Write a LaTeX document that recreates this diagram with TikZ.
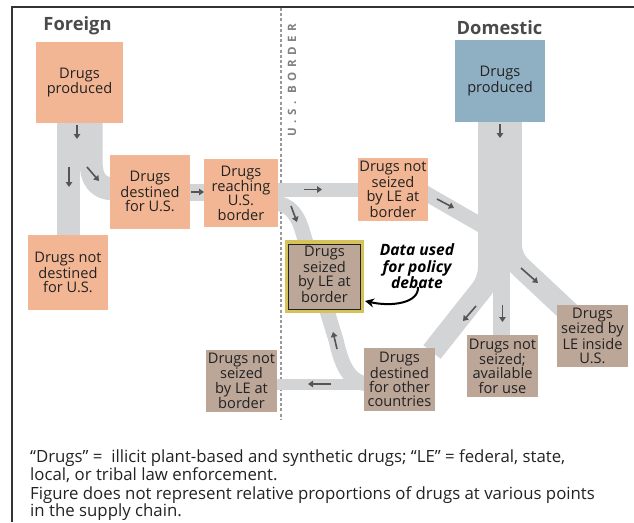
\documentclass[tikz,border=0pt]{standalone}
\usepackage{fontspec}
\setmainfont{Open Sans}
\newfontfamily\bordfam[LetterSpace=40]{Open Sans}
\usetikzlibrary{arrows.meta}
\definecolor{salmon}{HTML}{F3B694}
\definecolor{bluec}{HTML}{8FB0C2}
\definecolor{brownc}{HTML}{BBA698}
\definecolor{yellowc}{HTML}{D6C25A}
\definecolor{bandgray}{HTML}{D3D4D6}
\definecolor{arrgray}{HTML}{555555}
\definecolor{txt}{HTML}{222222}
\definecolor{titlec}{HTML}{4A4A4A}
\definecolor{framec}{HTML}{333333}
\newcommand{\boxfont}{\fontsize{14.6}{14.3}\selectfont}
\begin{document}
\begin{tikzpicture}[x=1pt,y=-1pt,
  band/.style={draw=bandgray, line cap=butt, line join=round},
  box/.style={inner sep=0pt, align=center, text=txt, font=\boxfont},
  flowarr/.style={draw=arrgray, line width=1.6pt, -{Triangle[length=5pt,width=6.5pt]}},
  title/.style={font=\bfseries\fontsize{18.3}{18.3}\selectfont, text=titlec},
  note/.style={anchor=north west, align=left, inner sep=0pt, text=txt, font=\fontsize{16.8}{15.5}\selectfont}
]
\useasboundingbox (0,0) rectangle (634,522);
% frame
\draw[framec, line width=2pt] (12,522) -- (12,7) -- (634,7);
% border
\draw[gray!80, line width=1.2pt, dash pattern=on 3pt off 2.2pt] (281,8) -- (281,420);
\node[rotate=90, font=\bordfam\bfseries\fontsize{11.5}{11.5}\selectfont, text=gray] (bordtxt) at (292,80) {U.S. BORDER};

% titles
\node[title] (tfor) at (77.5,26) {Foreign};
\node[title] (tdom) at (499.5,28) {Domestic};

% ---------- bands ----------
% foreign split
\draw[band, line width=23pt] (68.5,120) -- (68.5,240);
\draw[band, line width=23pt] (91,120) -- (91,160) .. controls (91,180) and (98,189) .. (115,189);
\draw[band, line width=17pt] (185,192) -- (210,192);
% reaching -> not seized
\draw[band, line width=14pt] (275,189.5) -- (362,189.5);
% reaching -> seized -> other countries
\draw[band, line width=15pt] (272,203) .. controls (290,203) and (298,215) .. (303,233) -- (336,340) .. controls (341,362) and (348,384) .. (370,384);
\draw[band, line width=11pt] (370,384) -- (272,384);
% domestic
\draw[band, line width=44pt] (500,120) -- (500,262);
\draw[band, line width=15pt] (420,190) -- (486,228);
\draw[band, line width=22pt, rounded corners=12pt] (489,250) -- (489,280) -- (432,352);
\draw[band, line width=17pt] (501.5,255) -- (501.5,340);
\draw[band, line width=22pt, rounded corners=12pt] (511,245) -- (511,258) -- (575,318);

% ---------- boxes ----------
\node[box, fill=salmon, minimum width=87pt, minimum height=81pt] (fprod) at (79.5,82.5) {Drugs\\produced};
\node[box, fill=bluec, minimum width=90pt, minimum height=82pt] (dprod) at (500,81) {Drugs\\produced};
\node[box, fill=salmon, minimum width=80pt, minimum height=74pt] (dest) at (150,191.5) {Drugs\\destined\\for U.S.};
\node[box, fill=salmon, minimum width=74pt, minimum height=68pt] (reach) at (241,193) {Drugs\\reaching\\U.S.\\border};
\node[box, fill=salmon, minimum width=80pt, minimum height=75pt] (notdest) at (68,272.5) {Drugs not\\destined\\for U.S.};
\node[box, fill=salmon, minimum width=70pt, minimum height=63pt] (nsb1) at (393,189.5) {Drugs not\\seized\\by LE at\\border};
\node[box, fill=brownc, draw=yellowc, line width=4pt, minimum width=75pt, minimum height=69pt, outer sep=0pt] (seized) at (324.5,276.5) {};
\node[draw=txt, line width=0.8pt, minimum width=72pt, minimum height=65pt, inner sep=0pt] (seizedin) at (seized.center) {};
\node[box] (seizedtxt) at (324.5,274.5) {Drugs\\seized\\by LE at\\border};
\node[box, fill=brownc, minimum width=71pt, minimum height=62pt] (nsb2) at (241.5,381) {Drugs not\\seized\\by LE at\\border};
\node[box, fill=brownc, minimum width=71pt, minimum height=63pt] (other) at (399.5,379.5) {Drugs\\destined\\for other\\countries};
\node[box, fill=brownc, minimum width=71pt, minimum height=62pt] (avail) at (502.5,366) {Drugs not\\seized;\\available\\for use};
\node[box, fill=brownc, minimum width=71pt, minimum height=62pt] (inside) at (592.5,336) {Drugs\\seized by\\LE inside\\U.S.};

% data used label and arrow
\node[font=\bfseries\itshape\fontsize{15.6}{16.5}\selectfont, align=center, text=black, inner sep=0pt] (data) at (417,266.5) {Data used\\for policy\\debate};
\coordinate (dtail) at (418,287);
\coordinate (dtip) at (365,301);
\draw[black, line width=2pt, -{Stealth[length=9pt,width=9pt]}] (dtail) .. controls (419,303) and (392,307) .. (dtip);

% ---------- flow arrows ----------
\draw[flowarr] (77,125) -- (77,139);
\draw[flowarr] (69,167) -- (69,187);
\draw[flowarr] (87,167) -- (99,181);
\draw[flowarr] (191,192) -- (204,192);
\draw[flowarr] (304,189.5) -- (322,189.5);
\draw[flowarr] (291,206) -- (297,222);
\draw[flowarr] (337,349) -- (333,332);
\draw[flowarr] (331,384) -- (308,384);
\draw[flowarr] (500,124) -- (500,138);
\draw[flowarr] (437,199) -- (454,208);
\draw[flowarr] (476,306) -- (463,321);
\draw[flowarr] (502.5,305) -- (502.5,322);
\draw[flowarr] (521,268) -- (538,283);

% ---------- notes ----------
\node[note] (note1) at (30,449.5) {“Drugs” = \ illicit plant-based and synthetic drugs; “LE” = federal, state,\\local, or tribal law enforcement.};
\node[note] (note2) at (30,486) {Figure does not represent relative proportions of drugs at various points\\in the supply chain.};
\end{tikzpicture}
\end{document}
